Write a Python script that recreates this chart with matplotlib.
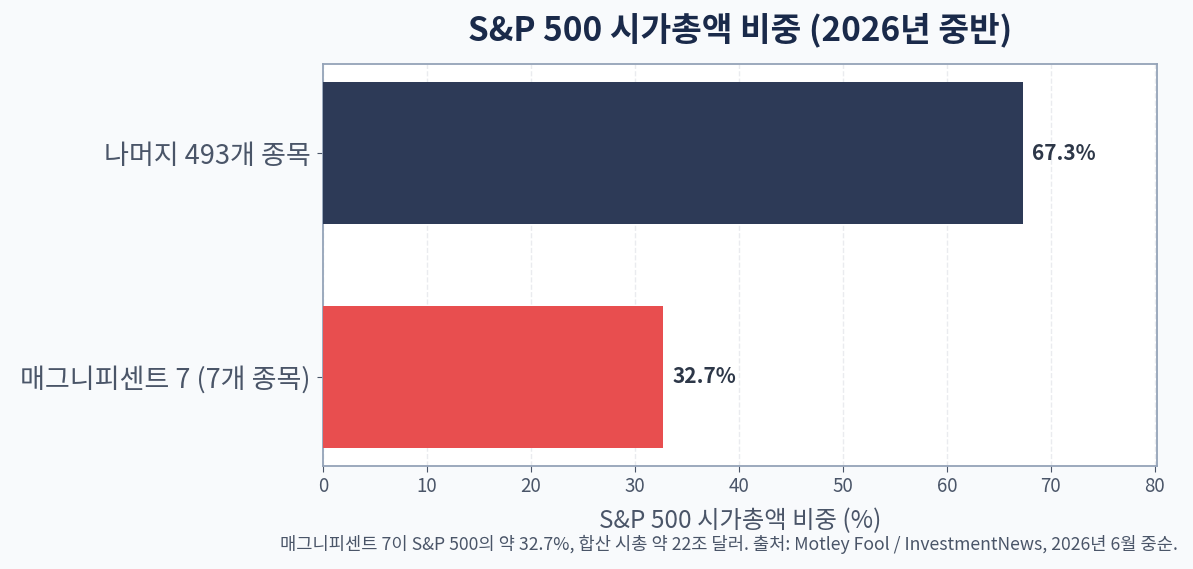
import matplotlib
matplotlib.use("Agg")
import matplotlib.pyplot as plt

plt.rcParams['font.family'] = ['Noto Sans CJK KR', 'DejaVu Sans']

categories = ["매그니피센트 7 (7개 종목)", "나머지 493개 종목"]
shares = [32.7, 67.3]
bar_colors = ["#e84e4f", "#2d3a57"]

fig = plt.figure(figsize=(11.93, 5.69), dpi=100, facecolor="#f8fafc")
ax = fig.add_axes([323 / 1193, 1 - 466 / 569, (1157 - 323) / 1193, (466 - 64) / 569])
ax.set_facecolor("white")

ax.barh(categories, shares, color=bar_colors, height=0.635, zorder=3)
for i, v in enumerate(shares):
    ax.text(v + 0.9, i, f"{v}%", va="center", ha="left",
            fontsize=15, fontweight="bold", color="#2d3748")

ax.set_xlim(0, 80.2)
ax.set_ylim(-0.4, 1.4)
ax.set_xticks(range(0, 81, 10))
ax.grid(axis="x", linestyle="--", color="#e5e7eb", linewidth=1, alpha=0.8, zorder=0)
for s in ax.spines.values():
    s.set_color("#94a3b8")
    s.set_linewidth(1.3)
ax.tick_params(axis="y", labelsize=19.5, colors="#4a5568", length=4, pad=5)
ax.tick_params(axis="x", labelsize=13.5, colors="#4a5568", length=4)

ax.set_xlabel("S&P 500 시가총액 비중 (%)", fontsize=17.5, color="#4a5568", labelpad=8)
fig.text((323 + 1157) / 2 / 1193, 1 - 30 / 569,
         "S&P 500 시가총액 비중 (2026년 중반)", ha="center", va="center",
         fontsize=24, fontweight="bold", color="#1a2a4a")
fig.text(1178 / 1193, 1 - 544 / 569,
         "매그니피센트 7이 S&P 500의 약 32.7%, 합산 시총 약 22조 달러. 출처: Motley Fool / InvestmentNews, 2026년 6월 중순.",
         ha="right", va="center", fontsize=12.7, color="#4a5568")

fig.savefig("out.png", dpi=100, facecolor=fig.get_facecolor())
